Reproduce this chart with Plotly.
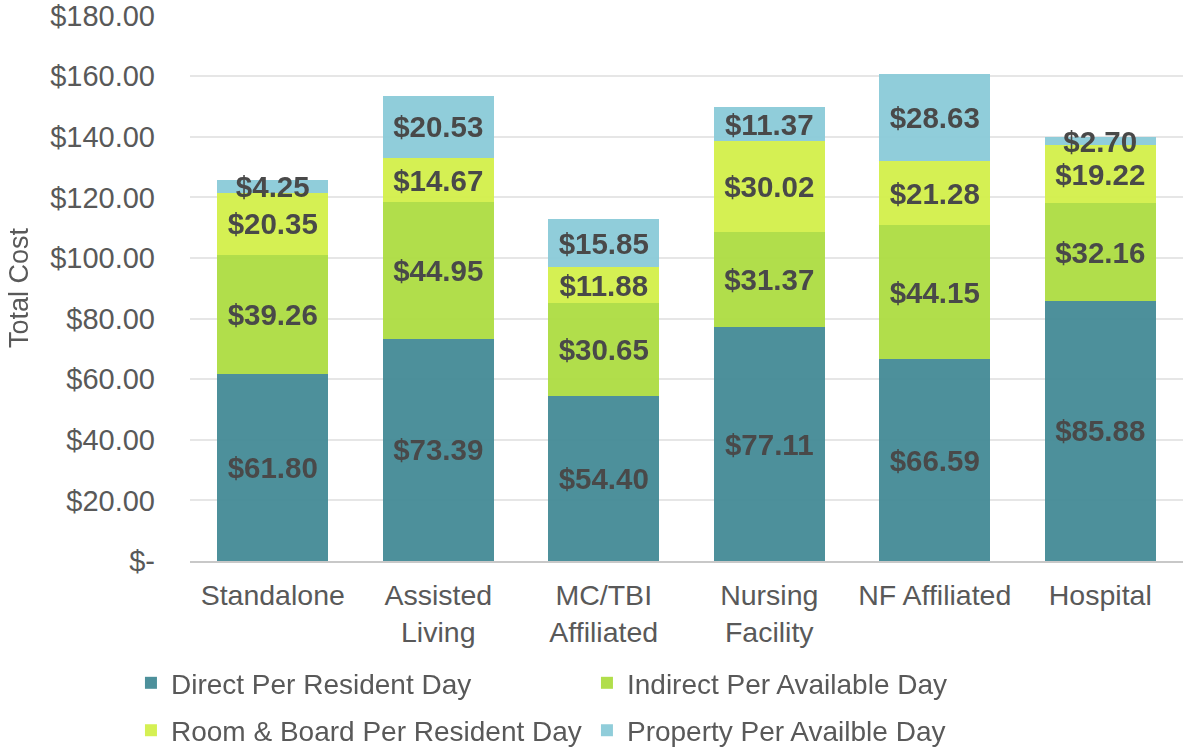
import plotly.graph_objects as go

categories = ["Standalone", "Assisted<br>Living", "MC/TBI<br>Affiliated", "Nursing<br>Facility", "NF Affiliated", "Hospital"]
direct = [61.80, 73.39, 54.40, 77.11, 66.59, 85.88]
indirect = [39.26, 44.95, 30.65, 31.37, 44.15, 32.16]
room_board = [20.35, 14.67, 11.88, 30.02, 21.28, 19.22]
prop = [4.25, 20.53, 15.85, 11.37, 28.63, 2.70]

series_names = ["Direct Per Resident Day", "Indirect Per Available Day",
                "Room & Board Per Resident Day", "Property Per Availble Day"]
series_vals = [direct, indirect, room_board, prop]
colors = ["#448b96", "#addd42", "#d3f04a", "#8bcbd8"]
legend_ids = ["legend", "legend", "legend2", "legend2"]

tick_vals = [0, 20, 40, 60, 80, 100, 120, 140, 160, 180]
tick_text = ["$-", "$20.00", "$40.00", "$60.00", "$80.00", "$100.00",
             "$120.00", "$140.00", "$160.00", "$180.00"]

FONT = "Liberation Sans, Arial, sans-serif"

fig = go.Figure()
for name, vals, col, lg in zip(series_names, series_vals, colors, legend_ids):
    fig.add_trace(go.Bar(
        x=categories, y=vals, name=name, legend=lg,
        marker=dict(color=col, line=dict(width=0)),
        opacity=0.95,
        text=[f"${v:.2f}" for v in vals],
        textposition="inside",
        insidetextanchor="middle",
        constraintext="none",
        textangle=0,
        textfont=dict(family=FONT, size=29.5, color="#404040", weight="bold"),
        hoverinfo="skip",
    ))

legend_common = dict(
    orientation="h",
    xref="container", yref="container",
    xanchor="left", yanchor="top",
    entrywidth=411, entrywidthmode="pixels",
    font=dict(family=FONT, size=28, color="#595959"),
    traceorder="normal",
    itemwidth=30,
    bgcolor="rgba(0,0,0,0)",
)

fig.update_layout(
    barmode="stack",
    bargap=0.33,
    width=1183, height=747,
    margin=dict(l=190, r=0, t=15, b=186, autoexpand=False),
    plot_bgcolor="white", paper_bgcolor="white",
    font=dict(family=FONT, size=28, color="#595959"),
    showlegend=True,
    legend=dict(legend_common, x=0.1107, y=0.119),
    legend2=dict(legend_common, x=0.1107, y=0.0555),
    xaxis=dict(
        automargin=False,
        showgrid=False, showline=True, linecolor="#c8c8c8", linewidth=2,
        ticks="", ticklabelstandoff=8,
        tickfont=dict(family=FONT, size=28.5, color="#595959"),
    ),
    yaxis=dict(
        automargin=False,
        range=[0, 180.2], tickvals=tick_vals, ticktext=tick_text,
        showgrid=True, gridcolor="#e6e6e6", gridwidth=1.5,
        zeroline=False, showline=False, ticks="",
        ticklabelstandoff=34, ticklabeloverflow="allow",
        tickfont=dict(family=FONT, size=29, color="#595959"),
        title=dict(text="Total Cost", font=dict(family=FONT, size=27, color="#595959"), standoff=13),
    ),
)

fig.write_html("out.html", config={"displayModeBar": False},
               post_script="document.body.style.margin='0';")
